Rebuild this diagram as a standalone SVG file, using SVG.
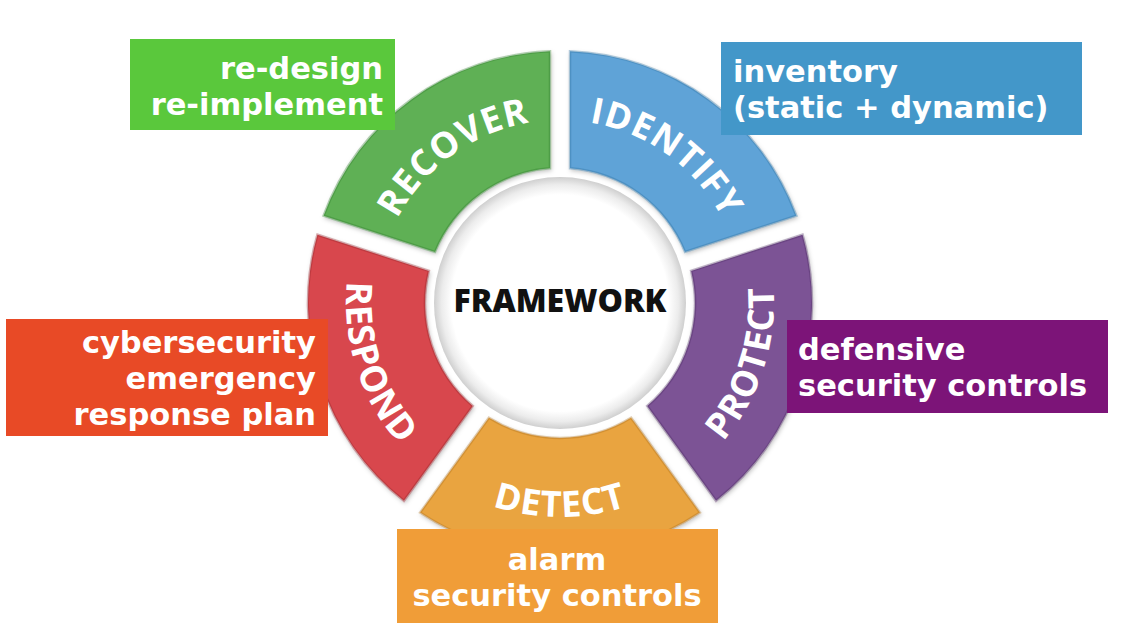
<svg xmlns="http://www.w3.org/2000/svg" width="1128" height="634" viewBox="0 0 1128 634">
<style>
.seg{stroke-width:2.5;stroke-opacity:0.35;filter:url(#sh)}
.lbl{font-family:"Open Sans","DejaVu Sans",sans-serif;font-weight:700;font-size:36px;fill:#ffffff;letter-spacing:1px}
.box{font-family:"DejaVu Sans","Verdana",sans-serif;font-weight:700;font-size:30.5px;fill:#ffffff}
.fw{font-family:"Open Sans","DejaVu Sans",sans-serif;font-weight:800;font-size:32px;fill:#111111}
</style>
<defs>
<filter id="sh" x="-10%" y="-10%" width="120%" height="120%">
<feDropShadow dx="1" dy="2" stdDeviation="2" flood-color="#000" flood-opacity="0.25"/>
</filter>
<radialGradient id="disc" cx="560" cy="303" r="126" gradientUnits="userSpaceOnUse">
<stop offset="0" stop-color="#ffffff"/>
<stop offset="0.86" stop-color="#ffffff"/>
<stop offset="0.94" stop-color="#ececec"/>
<stop offset="1" stop-color="#cfcfcf"/>
</radialGradient>
<path id="pRecover" d="M 378.0,322.1 A 183 183 0 0 1 634.43,135.82"/>
<path id="pIdentify" d="M 485.57,135.82 A 183 183 0 0 1 742.0,322.13"/>
<path id="pProtect" d="M 604.49,512.32 A 214 214 0 0 0 719.03,159.81"/>
<path id="pDetect" d="M 374.67,410 A 214 214 0 0 0 745.33,410"/>
<path id="pRespond" d="M 400.97,159.81 A 214 214 0 0 0 515.51,512.32"/>
</defs>
<rect width="1128" height="634" fill="#ffffff"/>

<g id="wheel">
<g id="identify">
<path class="seg" fill="#5fa3d7" stroke="#2f6f9f" d="M 570,51.2 A 252 252 0 0 1 796.4,215.7 L 684.95,251.89 A 135 135 0 0 0 570,168.37 Z"/>
<text class="lbl"><textPath href="#pIdentify" startOffset="50%" text-anchor="middle">IDENTIFY</textPath></text>
</g>
<g id="protect">
<path class="seg" fill="#7b5295" stroke="#4a2c5e" d="M 802.57,234.69 A 252 252 0 0 1 716.08,500.85 L 647.22,406.04 A 135 135 0 0 0 691.13,270.91 Z"/>
<text class="lbl"><textPath href="#pProtect" startOffset="50%" text-anchor="middle">PROTECT</textPath></text>
</g>
<g id="detect">
<path class="seg" fill="#e9a43f" stroke="#a86e1c" d="M 699.92,512.58 A 252 252 0 0 1 420.08,512.58 L 488.94,417.78 A 135 135 0 0 0 631.06,417.78 Z"/>
<text class="lbl"><textPath href="#pDetect" startOffset="50%" text-anchor="middle">DETECT</textPath></text>
</g>
<g id="respond">
<path class="seg" fill="#d8474d" stroke="#8e2328" d="M 403.92,500.85 A 252 252 0 0 1 317.43,234.69 L 428.87,270.91 A 135 135 0 0 0 472.78,406.04 Z"/>
<text class="lbl"><textPath href="#pRespond" startOffset="50%" text-anchor="middle">RESPOND</textPath></text>
</g>
<g id="recover">
<path class="seg" fill="#5fb055" stroke="#2f7a2a" d="M 323.62,215.68 A 252 252 0 0 1 550,51.2 L 550,168.37 A 135 135 0 0 0 435.05,251.89 Z"/>
<text class="lbl"><textPath href="#pRecover" startOffset="50%" text-anchor="middle">RECOVER</textPath></text>
</g>
<g id="framework">
<circle cx="560" cy="303" r="126" fill="url(#disc)"/>
<text class="fw" x="560" y="312" text-anchor="middle">FRAMEWORK</text>
</g>
</g>

<g id="connectors"></g>

<g id="box-recover">
<rect x="130" y="39" width="265" height="91" fill="#5ac83c"/>
<text class="box" text-anchor="end"><tspan x="383" y="79">re-design</tspan><tspan x="383" y="115">re-implement</tspan></text>
</g>
<g id="box-identify">
<rect x="721" y="42" width="361" height="93" fill="#4397c9"/>
<text class="box"><tspan x="733" y="82">inventory</tspan><tspan x="733" y="118">(static + dynamic)</tspan></text>
</g>
<g id="box-respond">
<rect x="6" y="319" width="322" height="117" fill="#e84a26"/>
<text class="box" text-anchor="end"><tspan x="316" y="353">cybersecurity</tspan><tspan x="316" y="389">emergency</tspan><tspan x="316" y="425">response plan</tspan></text>
</g>
<g id="box-protect">
<rect x="787" y="320" width="321" height="93" fill="#7c1478"/>
<text class="box"><tspan x="798" y="360">defensive</tspan><tspan x="798" y="396">security controls</tspan></text>
</g>
<g id="box-detect">
<rect x="397" y="529" width="321" height="94" fill="#f09d38"/>
<text class="box" text-anchor="middle"><tspan x="557" y="570">alarm</tspan><tspan x="557" y="606">security controls</tspan></text>
</g>
</svg>
